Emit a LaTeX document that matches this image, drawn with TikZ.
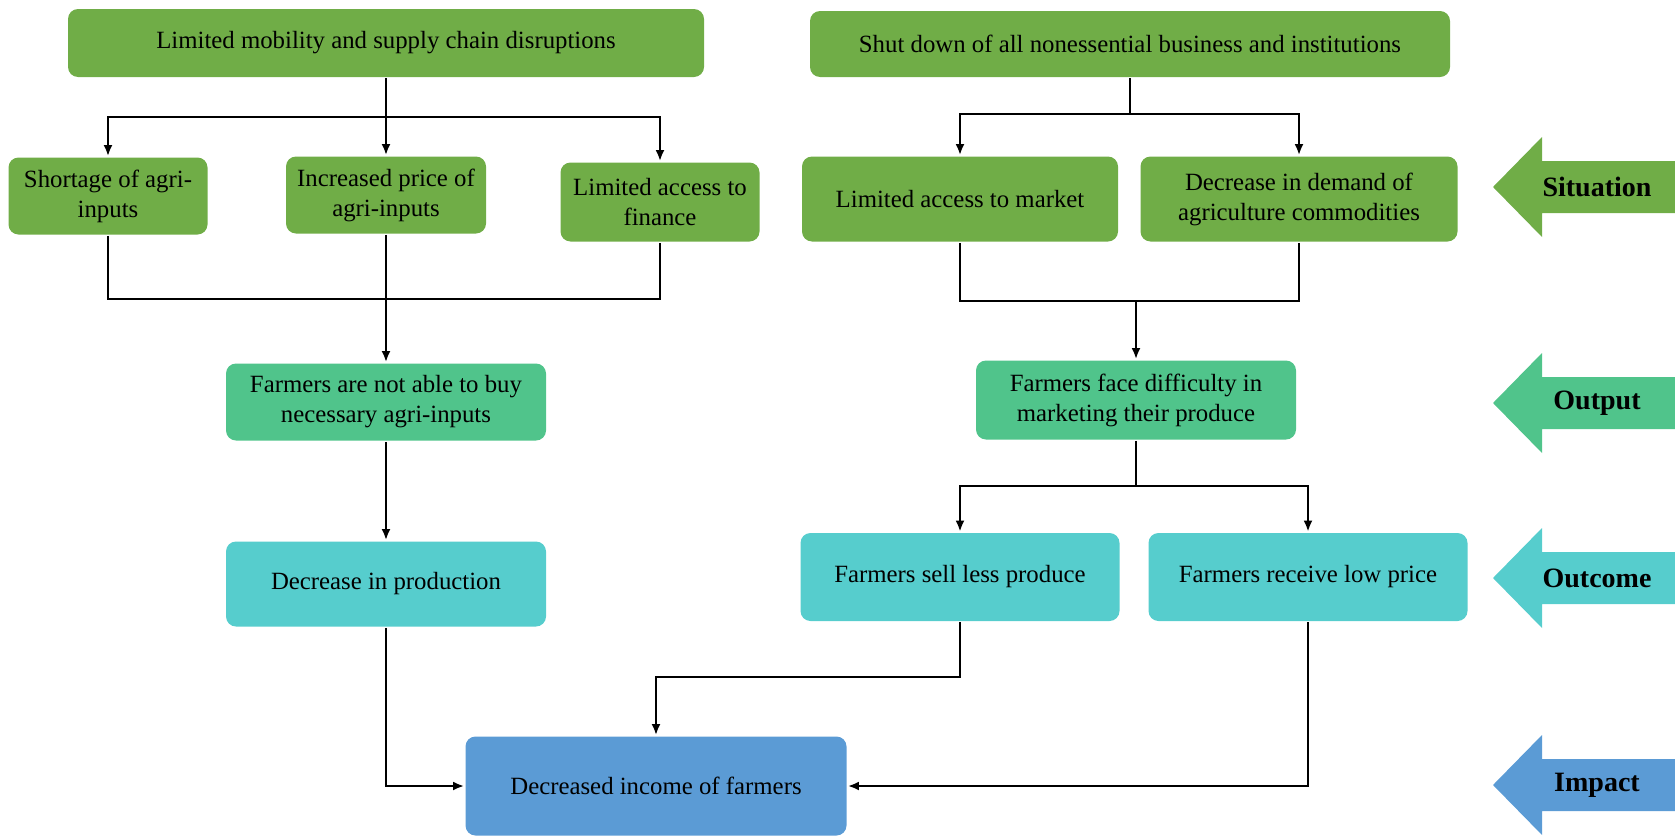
\documentclass[tikz,border=0pt]{standalone}
\usepackage{fontspec}
\setmainfont{Liberation Serif}
\usepackage{tikz}
\usetikzlibrary{arrows.meta, positioning}
\usepackage{xcolor}
\definecolor{sitgreen}{HTML}{70AD47}
\definecolor{outgreen}{HTML}{50C48B}
\definecolor{outteal}{HTML}{56CDCD}
\definecolor{impblue}{HTML}{5B9BD5}

\begin{document}
\begin{tikzpicture}[
  x=0.5pt, y=-0.5pt,
  every node/.style={font=\fontsize{12.4}{15}\selectfont, align=center},
  box/.style   ={rectangle, rounded corners=5pt, inner sep=2pt},
  sitbox/.style={box, fill=sitgreen},
  outbox/.style={box, fill=outgreen},
  ocbox/.style ={box, fill=outteal},
  impbox/.style={box, fill=impblue},
  tag/.style   ={font=\bfseries\fontsize{14}{16}\selectfont},
  link/.style  ={-{Latex[length=5.5pt,width=4.5pt]}},
  line width=1.4pt
]
\useasboundingbox (0,0) rectangle (1675,835);

%% Situation: the two causes on top
\node[sitbox, minimum width=318pt, minimum height=34pt] (mob) at (386,43)
  {Limited mobility and supply chain disruptions};
\node[sitbox, minimum width=320pt, minimum height=33pt] (shut) at (1130,44)
  {Shut down of all nonessential business and institutions};

%% Situation: second row
\node[sitbox, minimum width=99.5pt, minimum height=38.5pt] (short) at (108,196)
  {Shortage of agri-\\inputs};
\node[sitbox, minimum width=100pt, minimum height=38.5pt] (price) at (386,195)
  {Increased price of\\agri-inputs};
\node[sitbox, minimum width=99.5pt, minimum height=39.5pt] (fin) at (660,202)
  {Limited access to\\finance};
\node[sitbox, minimum width=158pt, minimum height=42.5pt] (mkt) at (960,199)
  {Limited access to market};
\node[sitbox, minimum width=158.5pt, minimum height=42.5pt] (dem) at (1299,199)
  {Decrease in demand of\\agriculture commodities};

%% Output
\node[outbox, minimum width=160pt, minimum height=38.5pt] (buy) at (386,402)
  {Farmers are not able to buy\\necessary agri-inputs};
\node[outbox, minimum width=160pt, minimum height=39.5pt] (mktg) at (1136,400)
  {Farmers face difficulty in\\marketing their produce};

%% Outcome
\node[ocbox, minimum width=160pt, minimum height=42.5pt] (prod) at (386,584)
  {Decrease in production};
\node[ocbox, minimum width=159.5pt, minimum height=44pt] (sell) at (960,577)
  {Farmers sell less produce};
\node[ocbox, minimum width=159.5pt, minimum height=44pt] (low) at (1308,577)
  {Farmers receive low price};

%% Impact
\node[impbox, minimum width=190.5pt, minimum height=49.5pt] (inc) at (656,786)
  {Decreased income of farmers};

%% Level markers (right side)
\foreach \yy/\col/\lab/\nm in {187/sitgreen/Situation/lvsit, 403/outgreen/Output/lvout,
                               578/outteal/Outcome/lvoc, 785/impblue/Impact/lvimp}{
  \fill[\col] (1493,\yy) -- (1542,\yy-50) -- (1542,\yy-26) -- (1675,\yy-26)
    -- (1675,\yy+26) -- (1542,\yy+26) -- (1542,\yy+50) -- cycle;
  \node[tag] (\nm) at (1597,\yy) {\lab};
}

%% Left branch
\coordinate (b1) at (386,117);
\draw[link] (mob) -- (price);
\draw[link] (b1) -| (short);
\draw[link] (b1) -| (fin);

\coordinate (m1) at (386,299);
\draw (short) |- (m1);
\draw (fin) |- (m1);
\draw[link] (price) -- (buy);
\draw[link] (buy) -- (prod);

%% Right branch
\coordinate (b2) at (1130,114);
\draw (shut) -- (b2);
\draw[link] (b2) -| (mkt);
\draw[link] (b2) -| (dem);

\coordinate (m2) at (1136,301);
\draw (mkt) |- (m2);
\draw (dem) |- (m2);
\draw[link] (m2) -- (mktg);

\coordinate (b3) at (1136,486);
\draw (mktg) -- (b3);
\draw[link] (b3) -| (sell);
\draw[link] (b3) -| (low);

%% Into impact
\coordinate (b4) at (656,677);
\draw[link] (prod) |- (inc);
\draw[link] (sell) |- (b4) -- (inc);
\draw[link] (low) |- (inc);

\end{tikzpicture}
\end{document}
